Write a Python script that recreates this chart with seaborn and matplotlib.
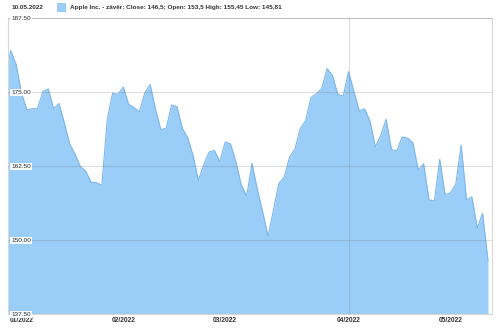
import numpy as np
import pandas as pd
import matplotlib
matplotlib.use("Agg")
import matplotlib.pyplot as plt
import seaborn as sns
from matplotlib.patches import Rectangle

dates = [
    "2021-12-31",
    "2022-01-03", "2022-01-04", "2022-01-05", "2022-01-06", "2022-01-07",
    "2022-01-10", "2022-01-11", "2022-01-12", "2022-01-13", "2022-01-14",
    "2022-01-18", "2022-01-19", "2022-01-20", "2022-01-21",
    "2022-01-24", "2022-01-25", "2022-01-26", "2022-01-27", "2022-01-28",
    "2022-01-31", "2022-02-01", "2022-02-02", "2022-02-03", "2022-02-04",
    "2022-02-07", "2022-02-08", "2022-02-09", "2022-02-10", "2022-02-11",
    "2022-02-14", "2022-02-15", "2022-02-16", "2022-02-17", "2022-02-18",
    "2022-02-22", "2022-02-23", "2022-02-24", "2022-02-25",
    "2022-02-28", "2022-03-01", "2022-03-02", "2022-03-03", "2022-03-04",
    "2022-03-07", "2022-03-08", "2022-03-09", "2022-03-10", "2022-03-11",
    "2022-03-14", "2022-03-15", "2022-03-16", "2022-03-17", "2022-03-18",
    "2022-03-21", "2022-03-22", "2022-03-23", "2022-03-24", "2022-03-25",
    "2022-03-28", "2022-03-29", "2022-03-30", "2022-03-31", "2022-04-01",
    "2022-04-04", "2022-04-05", "2022-04-06", "2022-04-07", "2022-04-08",
    "2022-04-11", "2022-04-12", "2022-04-13", "2022-04-14",
    "2022-04-18", "2022-04-19", "2022-04-20", "2022-04-21", "2022-04-22",
    "2022-04-25", "2022-04-26", "2022-04-27", "2022-04-28", "2022-04-29",
    "2022-05-02", "2022-05-03", "2022-05-04", "2022-05-05", "2022-05-06",
    "2022-05-09", "2022-05-10", "2022-05-11",
]
close = [
    177.57,
    182.01, 179.70, 174.92, 172.00, 172.17,
    172.19, 175.08, 175.53, 172.19, 173.07,
    169.80, 166.23, 164.51, 162.41,
    161.62, 159.78, 159.69, 159.22, 170.33,
    174.78, 174.61, 175.84, 172.90, 172.39,
    171.66, 174.83, 176.28, 172.12, 168.64,
    168.88, 172.79, 172.55, 168.88, 167.30,
    164.32, 160.07, 162.74, 164.85,
    165.12, 163.20, 166.56, 166.23, 163.17,
    159.30, 157.44, 162.95, 158.52, 154.73,
    150.62, 155.09, 159.59, 160.62, 163.98,
    165.38, 168.82, 170.21, 174.07, 174.72,
    175.60, 178.96, 177.77, 174.61, 174.31,
    178.44, 175.06, 171.83, 172.14, 170.09,
    165.75, 167.66, 170.40, 165.29,
    165.07, 167.40, 167.23, 166.42, 161.79,
    162.88, 156.80, 156.57, 163.64, 157.65,
    157.96, 159.48, 166.02, 156.77, 157.28,
    152.06, 154.51, 146.50,
]
y_ticks = [137.5, 150.0, 162.5, 175.0, 187.5]
x_tick_dates = ["2022-01-05", "2022-02-02", "2022-03-02", "2022-04-04", "2022-05-02"]
x_tick_labels = ["01/2022", "02/2022", "03/2022", "04/2022", "05/2022"]
marker_date = "2022-04-04"
header_date = "10.05.2022"
legend_label = "Apple Inc. - závěr: Close: 146,5; Open: 153,5 High: 155,45 Low: 145,81"

sns.set_theme(style="white")
plt.rcParams["font.family"] = ["Liberation Sans", "DejaVu Sans"]

df = pd.DataFrame({"date": dates, "close": close})
df["i"] = np.arange(len(df))

W, H = 500, 329
fig = plt.figure(figsize=(W / 100, H / 100), dpi=100)
fig.patch.set_facecolor("white")
ax = fig.add_axes([8 / W, 1 - 314 / H, (492 - 8) / W, (314 - 18) / H])
ax.set_facecolor("white")

fill_c = "#9acdf7"
line_c = "#7db8ec"
ymin, ymax = y_ticks[0], y_ticks[-1]

ax.fill_between(df["i"], df["close"], ymin, color=fill_c, lw=0, zorder=1)
sns.lineplot(data=df, x="i", y="close", ax=ax, color=line_c, lw=0.8, zorder=2)

ax.set_xlim(0.5, 90.75)
ax.set_ylim(ymin, ymax)

# grid on top of fill
ax.set_axisbelow(False)
ax.set_yticks(y_ticks)
ax.set_yticklabels([f"{v:.2f}" for v in y_ticks])
ax.yaxis.grid(True, color="#707070", alpha=0.22, lw=0.8)
ax.xaxis.grid(False)
ax.axvline(dates.index(marker_date), color="#707070", alpha=0.22, lw=0.8, zorder=3)

ax.tick_params(axis="y", length=0, pad=-2.3, labelsize=4.6, labelcolor="#333333")
for lab in ax.get_yticklabels():
    lab.set_ha("left")
    lab.set_bbox(dict(boxstyle="square,pad=0.2", fc="white", ec="none", alpha=0.9))

ax.set_xticks([dates.index(d) for d in x_tick_dates])
ax.set_xticklabels(x_tick_labels, fontweight="bold")
ax.tick_params(axis="x", length=0, pad=2.2, labelsize=4.8, labelcolor="#333333")

ax.set_xlabel("")
ax.set_ylabel("")
for s in ax.spines.values():
    s.set_color("#d8d8d8")
    s.set_linewidth(0.8)
    s.set_visible(True)

# header / legend
fig.text(12 / W, 1 - 7.5 / H, header_date, fontsize=4.6, fontweight="bold",
         va="center", ha="left", color="#333333")
fig.add_artist(Rectangle((57 / W, 1 - 11.5 / H), 8.5 / W, 8.5 / H,
                         transform=fig.transFigure, fc=fill_c, ec="none"))
fig.text(70 / W, 1 - 7.5 / H, legend_label, fontsize=4.6, fontweight="bold",
         va="center", ha="left", color="#333333")

fig.savefig("out.png", dpi=100)
